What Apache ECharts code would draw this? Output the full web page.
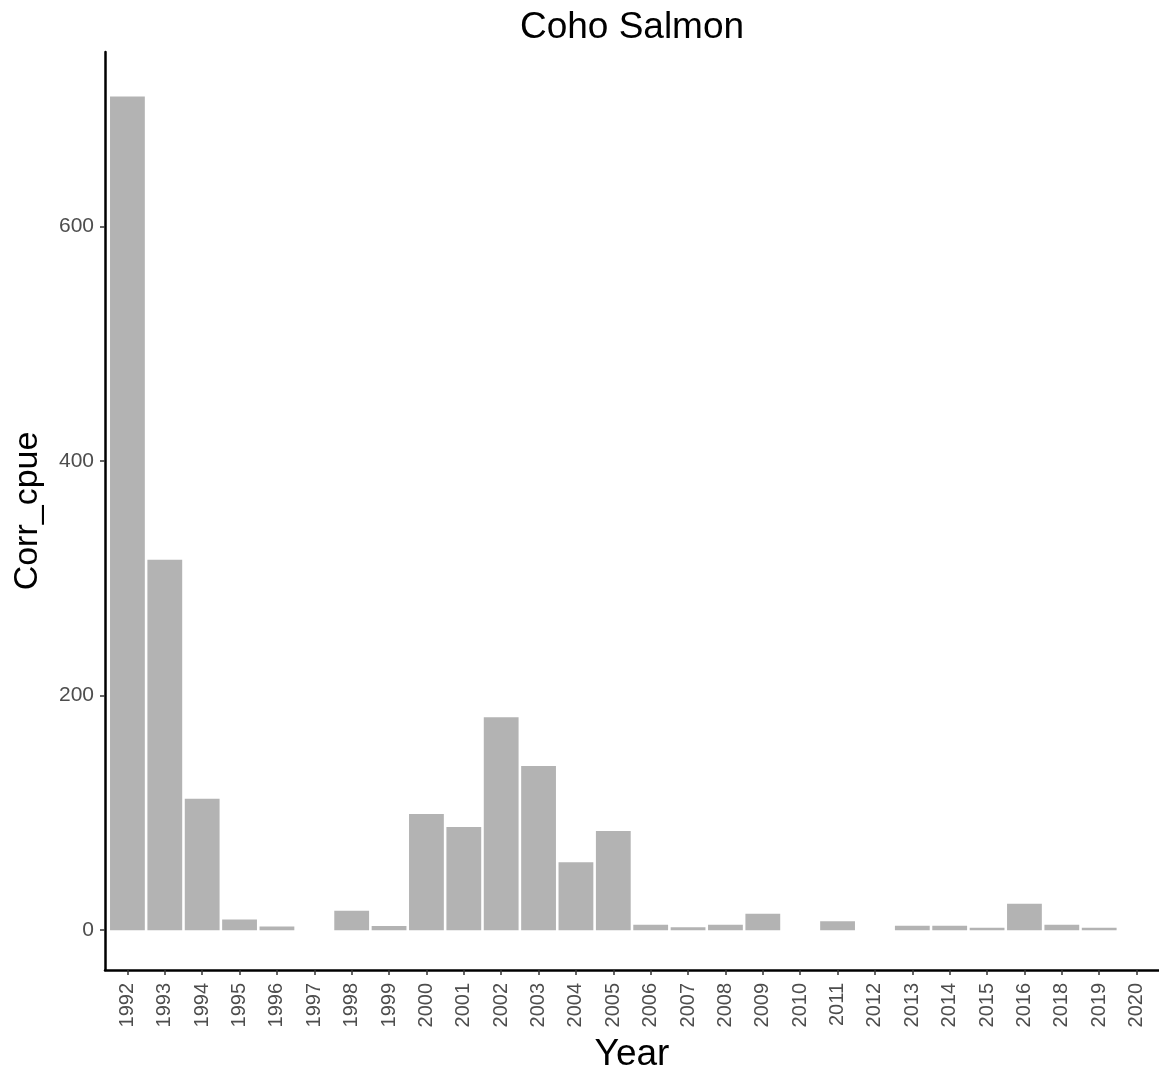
<!DOCTYPE html>
<html>
<head>
<meta charset="utf-8">
<script src="https://cdn.jsdelivr.net/npm/echarts@6/dist/echarts.min.js"></script>
<style>
html,body{margin:0;padding:0;background:#fff;}
#chart{width:1159px;height:1072px;}
</style>
</head>
<body>
<div id="chart"></div>
<script>
var years = ['1992','1993','1994','1995','1996','1997','1998','1999','2000','2001','2002','2003','2004','2005','2006','2007','2008','2009','2010','2011','2012','2013','2014','2015','2016','2018','2019','2020'];
var corrCpue = [711, 316, 112, 9, 3.2, null, 16.6, 3.5, 99, 88, 181.5, 140, 58, 84.5, 4.7, 2.4, 4.7, 14, null, 7.5, null, 3.8, 3.8, 2, 22.6, 4.7, 2, null];
var yTicks = [0, 200, 400, 600];

var FONT = "'Liberation Sans', Arial, sans-serif";
var idx = years.map(function(_, i){ return i; });
var barData = [];
for (var i = 0; i < years.length; i++) {
  if (corrCpue[i] !== null) barData.push([i, corrCpue[i]]);
}

var chart = echarts.init(document.getElementById('chart'), null, {renderer: 'canvas'});
chart.setOption({
  animation: false,
  backgroundColor: '#ffffff',
  title: {
    text: 'Coho Salmon',
    left: 632,
    textAlign: 'center',
    top: 9,
    padding: 0,
    textStyle: {fontFamily: FONT, fontSize: 37, fontWeight: 'normal', color: '#000'}
  },
  grid: {left: 105, right: 0, top: 52, bottom: 102, containLabel: false, outerBoundsMode: 'none'},
  xAxis: {
    type: 'value',
    min: -0.6,
    max: 27.6,
    name: 'Year',
    nameLocation: 'middle',
    nameGap: 66,
    nameTextStyle: {fontFamily: FONT, fontSize: 37, color: '#000'},
    axisLine: {show: true, onZero: false, lineStyle: {color: '#000', width: 2.5}},
    axisTick: {show: true, customValues: idx, length: 5, lineStyle: {color: '#333', width: 1.5}},
    axisLabel: {
      customValues: idx,
      rotate: 90,
      margin: 13,
      fontFamily: FONT,
      fontSize: 20,
      color: '#4d4d4d',
      formatter: function(v){ return years[Math.round(v)]; }
    },
    splitLine: {show: false}
  },
  yAxis: {
    type: 'value',
    min: -34,
    max: 749,
    name: 'Corr_cpue',
    nameLocation: 'middle',
    nameGap: 60,
    nameTextStyle: {fontFamily: FONT, fontSize: 34, color: '#000'},
    axisLine: {show: true, onZero: false, lineStyle: {color: '#000', width: 2.5}},
    axisTick: {show: true, customValues: yTicks, length: 5, lineStyle: {color: '#333', width: 1.5}},
    axisLabel: {
      customValues: yTicks,
      margin: 11,
      fontFamily: FONT,
      fontSize: 21,
      color: '#4d4d4d'
    },
    splitLine: {show: false}
  },
  series: [{
    type: 'bar',
    data: barData,
    barWidth: 34.8,
    itemStyle: {color: '#b3b3b3'}
  }]
});
</script>
</body>
</html>
